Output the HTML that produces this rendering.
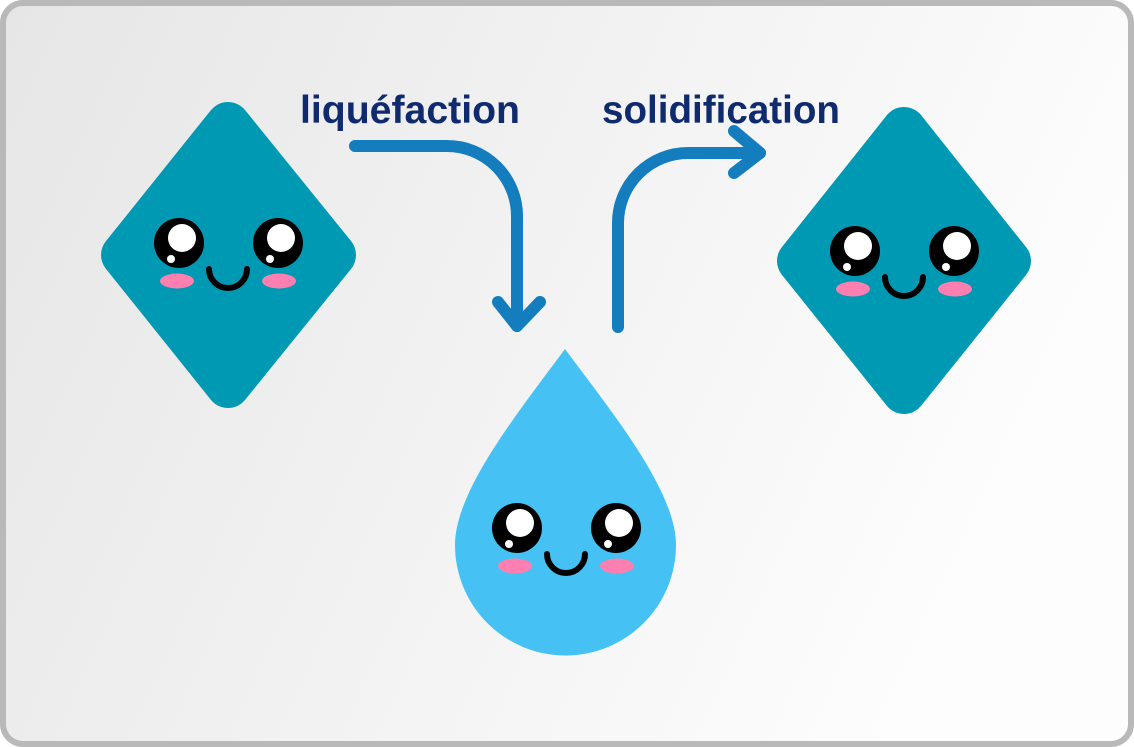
<!DOCTYPE html>
<html><head><meta charset="utf-8"><style>
html,body{margin:0;padding:0;width:1134px;height:747px;overflow:hidden;background:#fff}
</style></head><body>
<svg width="1134" height="747" viewBox="0 0 1134 747" xmlns="http://www.w3.org/2000/svg">
<defs>
<linearGradient id="bg" x1="0" y1="0" x2="1" y2="0.3">
<stop offset="0" stop-color="#e6e6e6"/><stop offset="1" stop-color="#fdfdfd"/>
</linearGradient>
<g id="face">
<circle cx="-49" cy="-12" r="25" fill="#000"/>
<circle cx="-46" cy="-17" r="14" fill="#fff"/>
<circle cx="-57" cy="4" r="4" fill="#fff"/>
<circle cx="50" cy="-12" r="25" fill="#000"/>
<circle cx="53" cy="-17" r="14" fill="#fff"/>
<circle cx="42" cy="4" r="4" fill="#fff"/>
<ellipse cx="-51" cy="26" rx="17" ry="7.5" fill="#ff7fb0"/>
<ellipse cx="51" cy="26" rx="17" ry="7.5" fill="#ff7fb0"/>
<path d="M-19 14 A19 19 0 0 0 19 14" fill="none" stroke="#000" stroke-width="6" stroke-linecap="round"/>
</g>
</defs>
<rect x="3" y="3" width="1128" height="741" rx="20" fill="url(#bg)" stroke="#b9b9b9" stroke-width="6"/>
<polygon points="228,124 334,255 228,386 123,255" fill="#0099b3" stroke="#0099b3" stroke-width="44" stroke-linejoin="round"/>
<use href="#face" x="228" y="255"/>
<polygon points="904,129 1009,261 904,392 799,261" fill="#0099b3" stroke="#0099b3" stroke-width="44" stroke-linejoin="round"/>
<use href="#face" x="904" y="263"/>
<path d="M565 349 C520 410 455 490 455 545 A110 110 0 0 0 676 545 C676 490 610 410 565 349 Z" fill="#45c2f3"/>
<use href="#face" x="566" y="540"/>
<g fill="none" stroke="#137dbe" stroke-width="12" stroke-linecap="round" stroke-linejoin="round">
<path d="M355 146 H447 A70 70 0 0 1 517 216 V326"/>
<path d="M498 302 L517 326 L540 302"/>
<path d="M618 327 V223 A70 70 0 0 1 688 153 H760"/>
<path d="M734 131 L760 153 L734 173"/>
</g>
<text x="300" y="123" font-family="Liberation Sans, sans-serif" font-weight="bold" font-size="39" fill="#102a6e" textLength="220" lengthAdjust="spacingAndGlyphs">liquéfaction</text>
<text x="602" y="123" font-family="Liberation Sans, sans-serif" font-weight="bold" font-size="39" fill="#102a6e" textLength="238" lengthAdjust="spacingAndGlyphs">solidification</text>
</svg>
</body></html>
